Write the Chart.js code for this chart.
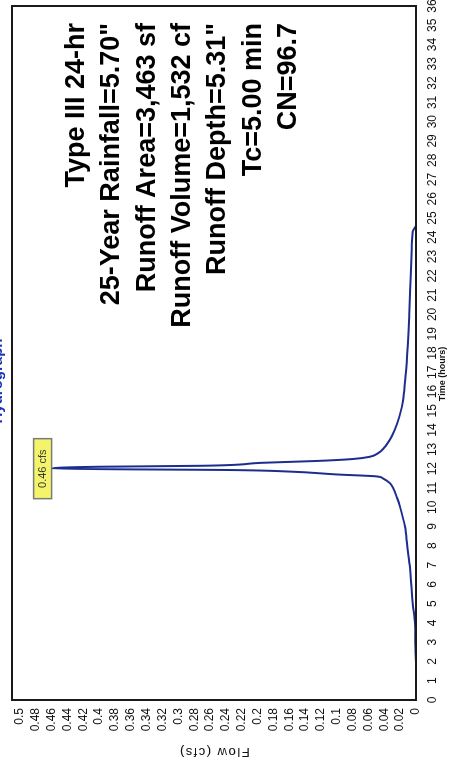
<!DOCTYPE html>
<html>
<head>
<meta charset="utf-8">
<script src="https://cdn.jsdelivr.net/npm/chart.js@4.4.1/dist/chart.umd.min.js"></script>
<style>
  html, body { margin: 0; padding: 0; background: #fff; overflow: hidden; width: 449px; height: 762px; }
  /* the hydrograph is laid out landscape and turned a quarter turn onto the portrait page */
  #turn { position: absolute; left: 0; top: 0; width: 762px; height: 449px;
          transform-origin: 0 0; transform: translate(0px, 762px) rotate(-90deg); }
  canvas { display: block; }
</style>
</head>
<body>
<div id="turn"><canvas id="hydro" width="762" height="449"></canvas></div>
<script>
// Runoff hydrograph, Type III 24-hr storm
const timeHours = [0, 1.7, 2.5, 3, 4, 5, 6, 7, 8, 9, 10, 10.5, 11, 11.25, 11.5, 11.6, 11.7, 11.85, 11.93,
                   12.0, 12.1, 12.15, 12.3, 12.4, 12.5, 12.62, 12.8, 13.0, 13.5, 14.0, 14.7, 15.6, 16.5,
                   18, 20, 22, 23.4, 24.3, 24.6];
const flowCfs = [0, 0, 0.0005, 0.0008, 0.0013, 0.004, 0.006, 0.008, 0.011, 0.014, 0.02, 0.024, 0.029, 0.033,
                 0.042, 0.05, 0.1, 0.16, 0.235,
                 0.46, 0.40, 0.27, 0.197, 0.125, 0.08, 0.058, 0.048, 0.042, 0.033, 0.027, 0.021, 0.016, 0.014,
                 0.011, 0.0085, 0.0067, 0.0055, 0.004, 0];
const timeTicks = [0, 1, 2, 3, 4, 5, 6, 7, 8, 9, 10, 11, 12, 13, 14, 15, 16, 17, 18, 19, 20, 21, 22, 23, 24,
                   25, 26, 27, 28, 29, 30, 31, 32, 33, 34, 35, 36];
const flowTicks = [0, 0.02, 0.04, 0.06, 0.08, 0.1, 0.12, 0.14, 0.16, 0.18, 0.2, 0.22, 0.24, 0.26, 0.28, 0.3,
                   0.32, 0.34, 0.36, 0.38, 0.4, 0.42, 0.44, 0.46, 0.48, 0.5];
const peakTime = 12.0;
const peakFlow = 0.46;
const chartTitle = 'Hydrograph';
const timeTitle = 'Time (hours)';
const flowTitle = 'Flow (cfs)';
const summaryLines = ['Type III 24-hr', '25-Year Rainfall=5.70"', 'Runoff Area=3,463 sf',
                      'Runoff Volume=1,532 cf', 'Runoff Depth=5.31"', 'Tc=5.00 min', 'CN=96.7'];

const FONT = "'Liberation Sans', Arial, sans-serif";

const decorations = {
  id: 'decorations',
  afterDraw(chart) {
    const ctx = chart.ctx;
    const a = chart.chartArea;
    const xs = chart.scales.x, ys = chart.scales.y;
    ctx.save();

    // plot frame
    ctx.strokeStyle = '#1a1a1a';
    ctx.lineWidth = 2;
    ctx.strokeRect(a.left, a.top, a.right - a.left, a.bottom - a.top);

    // chart title
    ctx.fillStyle = '#1a33b8';
    ctx.font = 'bold 15px ' + FONT;
    ctx.textAlign = 'center';
    ctx.textBaseline = 'alphabetic';
    ctx.fillText(chartTitle, chart.width / 2, 2);

    // axis titles
    ctx.fillStyle = '#111';
    ctx.font = 'bold 9px ' + FONT;
    ctx.textBaseline = 'middle';
    ctx.fillText(timeTitle, 388, 443);

    ctx.save();
    ctx.translate(10, (a.top + a.bottom) / 2);
    ctx.rotate(-Math.PI / 2);
    ctx.font = '13px ' + FONT;
    ctx.letterSpacing = '1.5px';
    ctx.fillText(flowTitle, 0, 0);
    ctx.restore();

    // storm summary
    ctx.fillStyle = '#000';
    ctx.font = 'bold 27px ' + FONT;
    ctx.textAlign = 'right';
    ctx.textBaseline = 'alphabetic';
    summaryLines.forEach((t, i) => ctx.fillText(t, 739, 84 + i * 35.3));

    // peak flow tag
    const px = xs.getPixelForValue(peakTime);
    const py = ys.getPixelForValue(peakFlow);
    const bw = 60, bh = 18;
    ctx.fillStyle = '#f4f46a';
    ctx.fillRect(px - bw / 2, py - bh, bw, bh);
    ctx.strokeStyle = '#7a7a7a';
    ctx.lineWidth = 1.5;
    ctx.strokeRect(px - bw / 2, py - bh, bw, bh);
    ctx.fillStyle = '#333';
    ctx.font = '11px ' + FONT;
    ctx.textAlign = 'center';
    ctx.textBaseline = 'middle';
    ctx.fillText(peakFlow.toFixed(2) + ' cfs', px, py - bh / 2);

    ctx.restore();
  }
};

new Chart(document.getElementById('hydro'), {
  type: 'line',
  data: {
    datasets: [{
      data: timeHours.map((t, i) => ({ x: t, y: flowCfs[i] })),
      borderColor: '#1b2d8f',
      borderWidth: 2,
      pointRadius: 0,
      fill: false,
      cubicInterpolationMode: 'monotone'
    }]
  },
  options: {
    responsive: false,
    animation: false,
    devicePixelRatio: 1,
    layout: { padding: { top: 12, right: 6, left: 0, bottom: 0 } },
    plugins: { legend: { display: false }, tooltip: { enabled: false }, title: { display: false } },
    scales: {
      x: {
        type: 'linear', min: 0, max: 36,
        grid: { display: false, drawTicks: false },
        border: { display: false },
        afterBuildTicks: s => { s.ticks = timeTicks.map(v => ({ value: v })); },
        afterFit: s => { s.height = 33; s.paddingLeft = 0; s.paddingRight = 0; },
        ticks: { padding: 9, maxRotation: 0, autoSkip: false, color: '#111',
                 font: { family: FONT, size: 12 }, callback: v => String(v) }
      },
      y: {
        type: 'linear', min: 0, max: 0.51,
        grid: { display: false, drawTicks: false },
        border: { display: false },
        afterBuildTicks: s => { s.ticks = flowTicks.map(v => ({ value: v })); },
        afterFit: s => { s.width = 62; s.paddingTop = 0; s.paddingBottom = 0; },
        ticks: { padding: 8, autoSkip: false, color: '#111',
                 font: { family: FONT, size: 12 }, callback: v => String(Math.round(v * 100) / 100) }
      }
    }
  },
  plugins: [decorations]
});
</script>
</body>
</html>
